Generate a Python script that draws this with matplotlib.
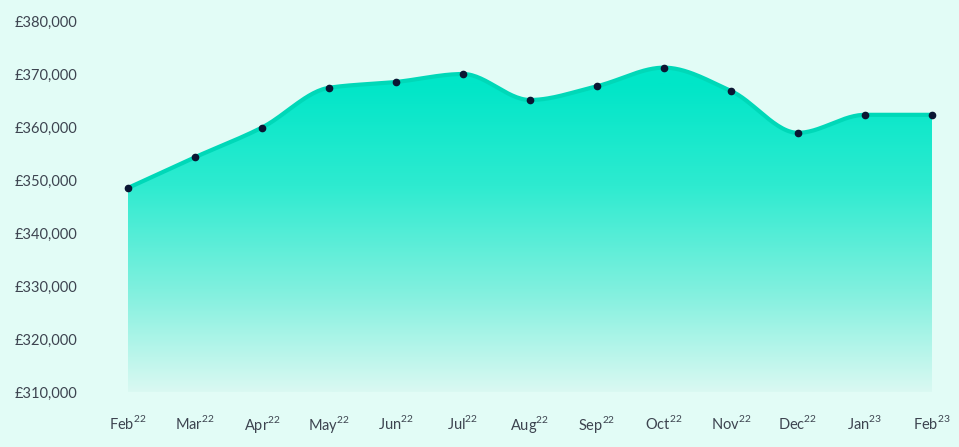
import numpy as np
import matplotlib
matplotlib.use("Agg")
import matplotlib.pyplot as plt
from matplotlib.colors import LinearSegmentedColormap
from matplotlib.ticker import FuncFormatter

# ---- data ----
months = ["Feb", "Mar", "Apr", "May", "Jun", "Jul", "Aug",
          "Sep", "Oct", "Nov", "Dec", "Jan", "Feb"]
years = ["22"] * 11 + ["23", "23"]
prices = [348500, 354300, 359900, 367400, 368500, 370000, 365100,
          367700, 371200, 366800, 358900, 362300, 362300]
y_ticks = [310000, 320000, 330000, 340000, 350000, 360000, 370000, 380000]

BG = "#e2fcf6"
TEAL = "#00e6c8"
LINE = "#00d8b8"
DOT = "#0b1633"
TEXT = "#3d4450"

plt.rcParams["font.family"] = ["Lato", "DejaVu Sans"]
plt.rcParams["mathtext.fontset"] = "custom"
plt.rcParams["mathtext.rm"] = "Lato"


def smooth(x, y, n=30):
    """monotone cubic (Fritsch-Carlson) just for drawing the curve"""
    x = np.asarray(x, float)
    y = np.asarray(y, float)
    h = np.diff(x)
    d = np.diff(y) / h
    m = np.zeros_like(y)
    m[0], m[-1] = d[0], d[-1]
    for i in range(1, len(y) - 1):
        if d[i - 1] * d[i] > 0:
            m[i] = 2 / (1 / d[i - 1] + 1 / d[i])
    xs, ys = [], []
    for i in range(len(h)):
        t = np.linspace(0, 1, n, endpoint=False)
        h00 = 2 * t**3 - 3 * t**2 + 1
        h10 = t**3 - 2 * t**2 + t
        h01 = -2 * t**3 + 3 * t**2
        h11 = t**3 - t**2
        xs.append(x[i] + t * h[i])
        ys.append(h00 * y[i] + h10 * h[i] * m[i] + h01 * y[i + 1] + h11 * h[i] * m[i + 1])
    xs.append([x[-1]])
    ys.append([y[-1]])
    return np.concatenate(xs), np.concatenate(ys)


W, H = 959, 447
fig = plt.figure(figsize=(W / 100, H / 100), dpi=100, facecolor=BG)
ax = fig.add_axes([100 / W, 37 / H, 859 / W, 410 / H])
ax.set_facecolor(BG)

x = np.arange(len(prices))
xs, ys = smooth(x, prices)

ymin_fill = 310000
ax.set_xlim(-28 / 67, 12 + 27 / 67)
ax.set_ylim(380000 - 389 / 5.3 * 1000, 380000 + 21 / 5.3 * 1000)

# gradient fill clipped to the area under the curve
poly = ax.fill_between(xs, ys, ymin_fill, color="none", lw=0)
cmap = LinearSegmentedColormap.from_list("g", ["#daf9f2", "#7ff0de", "#2eebd0", TEAL],
                                         N=256)
grad = np.linspace(0, 1, 256).reshape(-1, 1)
img = ax.imshow(grad, cmap=cmap, aspect="auto", origin="lower",
                extent=[xs[0], xs[-1], ymin_fill, max(prices) - 3000], zorder=1)
img.set_clip_path(poly.get_paths()[0], transform=ax.transData)
# top part above the gradient stays solid teal
top = ax.fill_between(xs, ys, max(prices) - 3000, where=ys > max(prices) - 3000,
                      color=TEAL, lw=0, zorder=1)

ax.plot(xs, ys, color=LINE, lw=3, solid_capstyle="round", zorder=2)
ax.plot(x, prices, "o", color=DOT, ms=4.5, zorder=3)

ax.set_yticks(y_ticks)
ax.yaxis.set_major_formatter(FuncFormatter(lambda v, p: f"£{v:,.0f}"))
ax.set_xticks(x)
ax.set_xticklabels([f"{m}$^{{\\mathrm{{{yy}}}}}$" for m, yy in zip(months, years)])
ax.tick_params(axis="y", length=0, pad=16, labelsize=10.5, labelcolor=TEXT)
ax.tick_params(axis="x", length=0, pad=3, labelsize=10.5, labelcolor=TEXT)
for s in ax.spines.values():
    s.set_visible(False)

fig.savefig("out.png", dpi=100, facecolor=BG)
